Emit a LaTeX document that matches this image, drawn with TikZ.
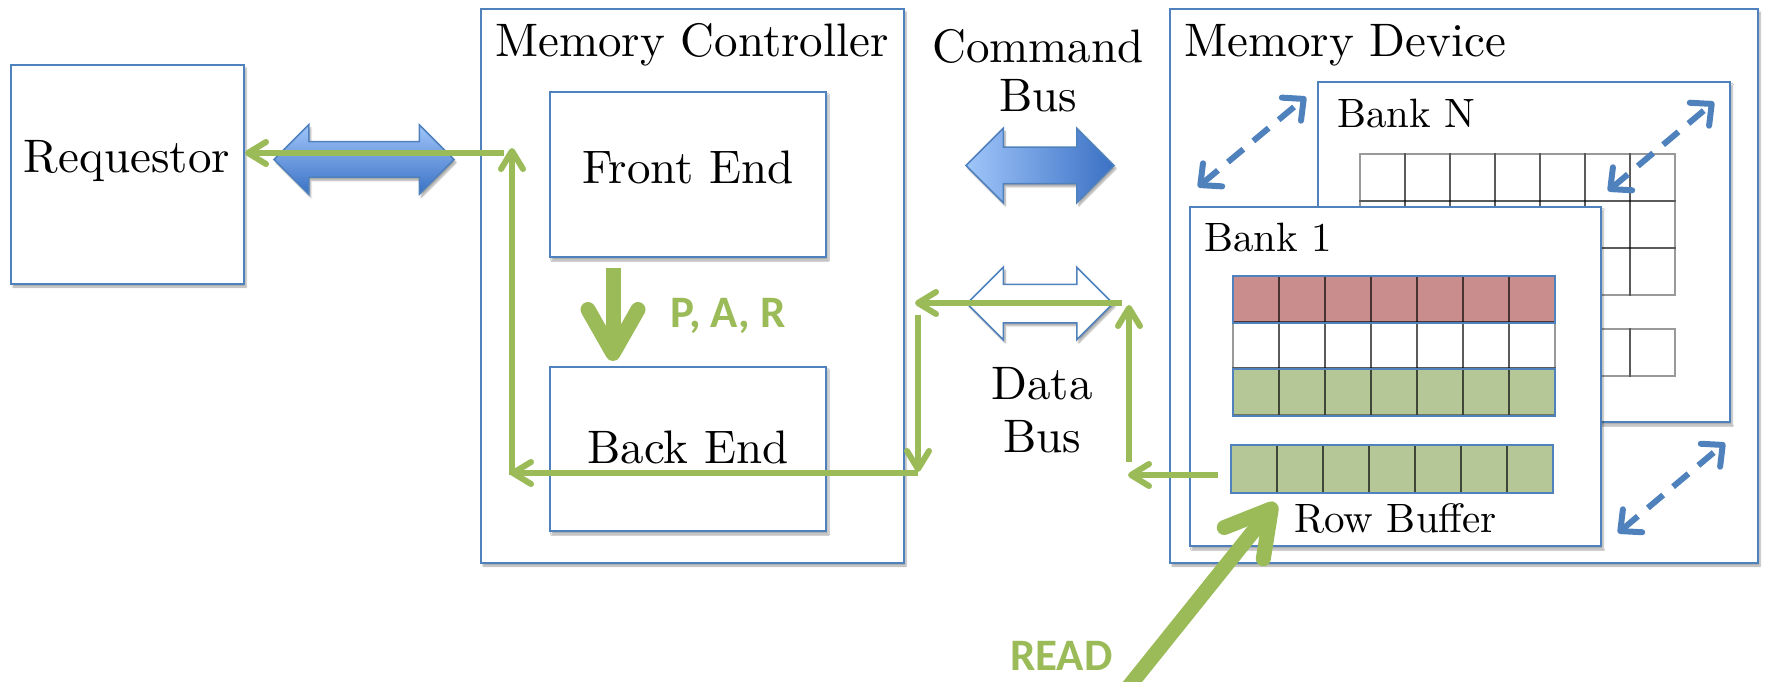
\documentclass[tikz,border=0pt]{standalone}
\usepackage{fontspec}
\setmainfont{lmroman10-regular.otf}[BoldFont=lmroman10-bold.otf]
\newfontfamily\calibrifont{Carlito}
\usetikzlibrary{arrows.meta,shapes.arrows,shadows.blur}

\definecolor{officeblue}{RGB}{79,129,189}
\definecolor{officegreen}{RGB}{155,187,89}
\definecolor{rowred}{RGB}{201,141,141}
\definecolor{rowgreen}{RGB}{181,199,150}
\definecolor{buslight}{RGB}{160,198,250}
\definecolor{busdark}{RGB}{58,112,196}

\tikzset{
	unitbox/.style={draw=officeblue, line width=2pt, fill=white, inner sep=0pt,
		blur shadow={shadow xshift=2pt, shadow yshift=-3pt, shadow blur steps=6, shadow opacity=35}},
	banklabel/.style={font=\fontsize{41}{44}\selectfont, anchor=base west, inner sep=0pt},
	greenlabel/.style={font=\calibrifont\bfseries\fontsize{45}{45}\selectfont, text=officegreen, anchor=base west, inner sep=0pt},
	bus/.style={double arrow, inner xsep=0pt, draw=officeblue, line width=1.5pt,
		blur shadow={shadow xshift=2pt, shadow yshift=-3pt, shadow blur steps=6, shadow opacity=35}},
	cell/.style={draw=black, draw opacity=0.4, line width=2.5pt},
	rowframe/.style={draw=officeblue, line width=2pt},
	flow/.style={draw=officegreen, line width=6pt, -{Straight Barb[length=18pt,width=22pt,round]}},
	fatflow/.style={draw=officegreen, line width=15pt, -{Straight Barb[length=44pt,width=50pt,round]}},
	swap/.style={draw=officeblue, line width=6pt, dash pattern=on 20pt off 13pt,
		{Straight Barb[length=16pt,width=30pt,round]}-{Straight Barb[length=16pt,width=30pt,round]}},
}

\begin{document}
\begin{tikzpicture}[
	x=1pt, y=-1pt,
	font=\fontsize{47}{49}\selectfont
	]
\useasboundingbox (0,0) rectangle (1765,682);
\clip (0,0) rectangle (1765,682);

% requestor and controller
\node[unitbox, minimum width=233pt, minimum height=219pt] (requestor) at (127.5,174.5) {};
\node[anchor=base, inner sep=0pt] (reqtext) at (127,172) {Requestor};
\node[unitbox, minimum width=423pt, minimum height=554pt] (controller) at (692.5,286) {};
\node[anchor=base, inner sep=0pt] (ctrltitle) at (692,57) {Memory Controller};
\node[unitbox, minimum width=276pt, minimum height=165pt] (frontend) at (688,174.5) {};
\node[anchor=base, inner sep=0pt] (fronttext) at (688,183) {Front End};
\node[unitbox, minimum width=276pt, minimum height=164pt] (backend) at (688,449) {};
\node[anchor=base, inner sep=0pt] (backtext) at (688,463) {Back End};

% buses
\node[bus, inner ysep=17pt, double arrow head extend=17pt, minimum height=180pt,
	top color=buslight, bottom color=busdark] (reqbus) at (364,159.5) {};
\node[bus, inner ysep=17.5pt, double arrow head extend=19pt, minimum height=148pt,
	left color=buslight, right color=busdark] (cmdbus) at (1040,165.5) {};
\node[bus, inner ysep=18.5pt, double arrow head extend=17pt, minimum height=146pt,
	fill=white] (databus) at (1040,303.5) {};
\node[align=center, inner sep=0pt] (cmdtext) at (1038,71) {Command\\Bus};
\node[align=center, inner sep=0pt, font=\fontsize{47}{53}\selectfont] (datatext) at (1042,410.5) {Data\\Bus};

% memory device
\node[unitbox, minimum width=588pt, minimum height=554pt] (device) at (1464,286) {};
\node[anchor=base west, inner sep=0pt] (devtitle) at (1184,57) {Memory Device};

% bank N
\node[unitbox, minimum width=412pt, minimum height=340pt] (bankN) at (1524,252) {};
\node[banklabel] (bankNtitle) at (1337,128) {Bank N};
\foreach \c in {0,...,6} {
	\foreach \r in {0,1,2}
		\draw[cell] (1360+45*\c,154+47*\r) rectangle ++(45,47);
	\draw[cell] (1360+45*\c,329) rectangle ++(45,47);
}

% bank 1
\node[unitbox, minimum width=411pt, minimum height=339pt] (bankone) at (1395.5,376.5) {};
\node[banklabel] (bankonetitle) at (1204,251) {Bank 1};
\node[fill=rowred, minimum width=322pt, minimum height=46.3pt, inner sep=0pt] (openrow) at (1394,299.2) {};
\node[fill=rowgreen, minimum width=322pt, minimum height=46.3pt, inner sep=0pt] (readrow) at (1394,392.2) {};
\node[fill=rowgreen, minimum width=322pt, minimum height=48pt, inner sep=0pt] (rowbuf) at (1392,469) {};
\foreach \c in {0,...,6} {
	\foreach \r in {0,1,2}
		\draw[cell] (1233+46*\c,276+46.3*\r) rectangle ++(46,46.3);
	\draw[cell] (1231+46*\c,445) rectangle ++(46,48);
}
\draw[rowframe] (openrow.north west) rectangle (openrow.south east);
\draw[rowframe] (readrow.north west) rectangle (readrow.south east);
\draw[rowframe] (rowbuf.north west) rectangle (rowbuf.south east);
\node[anchor=base west, inner sep=0pt, font=\fontsize{41}{44}\selectfont] (buftext) at (1294,532) {Row Buffer};

% bank swapping
\coordinate (swapa1) at (1198,187);
\coordinate (swapa2) at (1306,97);
\coordinate (swapb1) at (1608,191);
\coordinate (swapb2) at (1714,102);
\coordinate (swapc1) at (1618,533);
\coordinate (swapc2) at (1725,443);
\draw[swap] (swapa1) -- (swapa2);
\draw[swap] (swapb1) -- (swapb2);
\draw[swap] (swapc1) -- (swapc2);

% command decode
\coordinate (decodeout) at (613,268);
\draw[fatflow, shorten >=5pt] (decodeout) -- (decodeout |- backend.north);
\node[greenlabel] (parlabel) at (670,327) {P, A, R};

% read data path
\coordinate (bufout) at (1218,475);
\coordinate (busrise) at (1129,475);
\coordinate (bustop) at (1129,303);
\coordinate (ctrlin) at (918,303);
\coordinate (ctrlturn) at (918,473);
\coordinate (ctrlleft) at (512,473);
\coordinate (ctrlup) at (512,153);
\coordinate (reqin) at (requestor.east |- ctrlup);
\draw[flow, shorten >=-1pt] (bufout) -- (busrise);
\draw[flow, shorten <=13pt, shorten >=2pt] (busrise) -- (bustop);
\draw[flow, shorten <=7pt, shorten >=-3pt] (bustop) -- (ctrlin);
\draw[flow, shorten <=12pt, shorten >=1pt] (ctrlin) -- (ctrlturn);
\draw[flow, shorten >=-2pt] (ctrlturn) -- (ctrlleft);
\draw[flow, shorten <=-2pt, shorten >=-5pt] (ctrlleft) -- (ctrlup);
\draw[flow, shorten <=8pt] (ctrlup) -- (reqin);

% read command
\coordinate (readfoot) at (1126,690);
\coordinate (readtip) at (1276,503);
\draw[fatflow] (readfoot) -- (readtip);
\node[greenlabel] (readlabel) at (1010,670) {READ};

\end{tikzpicture}
\end{document}
